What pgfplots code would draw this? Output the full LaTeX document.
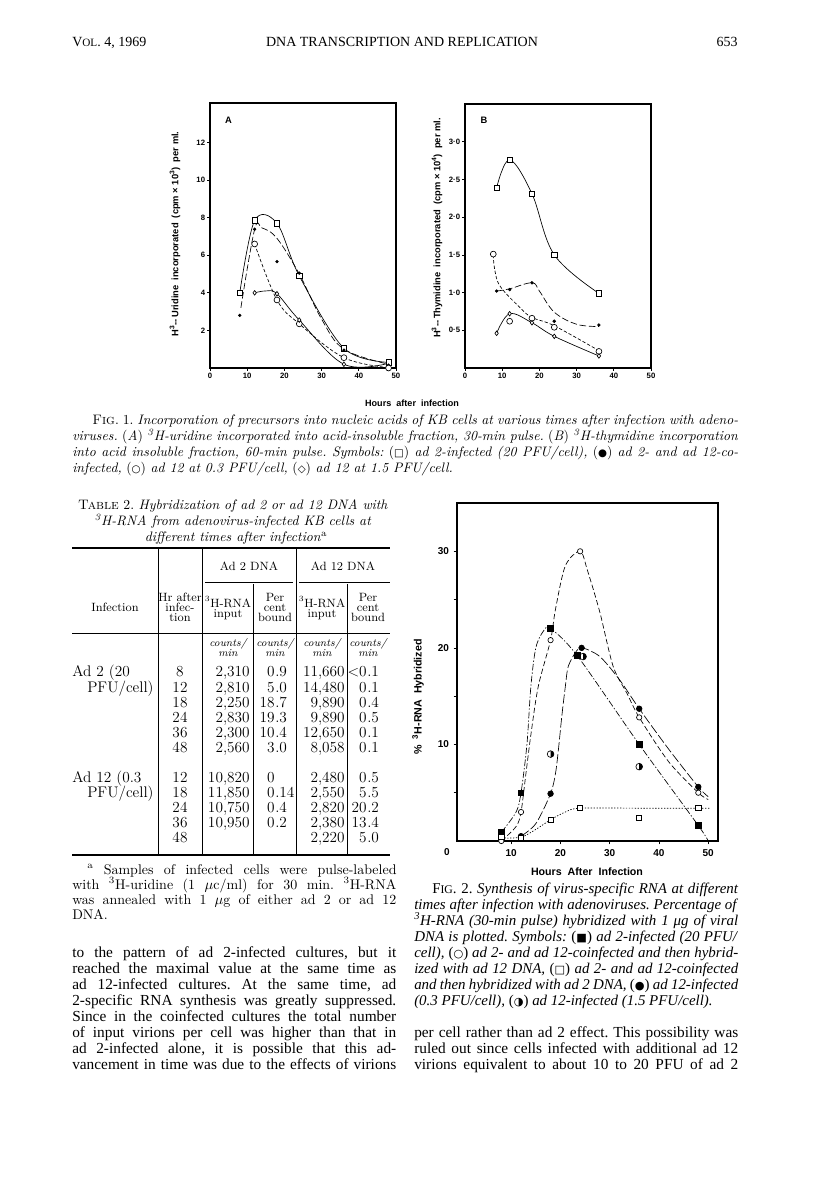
\documentclass[border=0pt]{standalone}
\usepackage{pgfplots}
\pgfplotsset{compat=1.18}
\usepackage{graphicx}
\usepackage{fontspec}
\newfontfamily\tms{Liberation Serif}
\newfontfamily\hv{Liberation Sans}
\newfontfamily\sym{DejaVu Sans}
\frenchspacing
\newcommand\sy[1]{{\sym\scalebox{0.75}{#1}}}
\newcommand\bodyf{\tms\fontsize{11.5}{12}\selectfont}
\newcommand\captf{\tms\fontsize{11.2}{12}\selectfont}
\newcommand\lmf{\fontsize{10.3}{12}\selectfont}
\newcommand\J[4]{\node[anchor=base west,inner sep=0pt] at (#1,-#2) {\makebox[#3][s]{#4}};}
\newcommand\Lt[3]{\node[anchor=base west,inner sep=0pt] at (#1,-#2) {#3};}
\pgfdeclareplotmark{halfo}{%
  \pgfpathcircle{\pgfpointorigin}{\pgfplotmarksize}%
  \pgfusepathqstroke
  \pgfpathmoveto{\pgfpoint{0pt}{\pgfplotmarksize}}%
  \pgfpatharc{90}{-90}{\pgfplotmarksize}%
  \pgfpathclose
  \pgfusepathqfill}
\pgfplotsset{
  fig1/.style={scale only axis, anchor=south west, clip=false,
    axis line style={line width=0.8pt},
    tick align=outside, tick pos=left, major tick length=2pt,
    tick style={line width=0.5pt,black},
    tick label style={font=\hv\bfseries\fontsize{5.8}{6}\selectfont, inner sep=1.5pt},
    every axis plot/.append style={line width=0.5pt, black}},
}
\begin{document}
\begin{tikzpicture}[x=0.75pt,y=0.75pt]
\fill[white] (0,0) rectangle (816,-1181);
\path[use as bounding box] (0,0) rectangle (816,-1181);

% ---------------- header
\begin{scope}[every node/.style={font=\tms\fontsize{10.5}{12}\selectfont}]
\Lt{72}{47}{V{\fontsize{8.4}{8}\selectfont OL}. 4, 1969}
\node[anchor=base,inner sep=0pt] at (402,-47) {DNA TRANSCRIPTION AND REPLICATION};
\node[anchor=base east,inner sep=0pt] at (738,-47) {653};
\end{scope}

% ---------------- Fig 1 A  (box x 210-396 px, y 103-368 px)
\begin{axis}[fig1, at={(157.5pt,-276pt)}, width=139.5pt, height=198.75pt,
  xmin=0, xmax=50, ymin=0, ymax=14.1,
  xtick={0,10,20,30,40,50}, xticklabels={0,10,20,30,40,50},
  ytick={2,4,6,8,10,12}, yticklabels={2,4,6,8,10,12}]
\addplot[smooth, tension=0.55] coordinates {(8,4.0)(12,7.85)(18,7.7)(24,4.9)(36,1.05)(48,0.3)};
\addplot[smooth, tension=0.6, dash pattern=on 5pt off 2pt] coordinates {(8.3,3.2)(12,7.38)(14,7.45)(18,6.9)(24,5.0)(30,2.6)(36,1.0)(48,0.2)};
\addplot[smooth, tension=0.6, dash pattern=on 2.5pt off 1.5pt] coordinates {(12,6.6)(18,3.62)(24,2.35)(36,0.55)(48,0.02)};
\addplot[smooth, tension=0.6] coordinates {(12,4.0)(15,4.1)(18,3.95)(24,2.55)(36,0.2)(48,0.25)};
\addplot[only marks, mark=square*, mark size=2pt, mark options={fill=white}] coordinates {(8,4.0)(12,7.85)(18,7.7)(24,4.9)(36,1.05)(48,0.3)};
\addplot[only marks, mark=*, mark size=1pt] coordinates {(8,2.8)(12,7.38)(18,5.66)(24,5.05)(36,0.95)(48,0.15)};
\addplot[only marks, mark=*, mark size=2.2pt, mark options={fill=white}] coordinates {(12,6.6)(18,3.62)(24,2.35)(36,0.55)(48,0.0)};
\addplot[only marks, mark=diamond*, mark size=1.7pt, mark options={fill=white}] coordinates {(12,4.0)(18,3.95)(24,2.55)(36,0.2)};
\node[font=\hv\bfseries\fontsize{7}{8}\selectfont] at (axis cs:5,13.2) {A};
\end{axis}
\node[rotate=90, font=\hv\bfseries\fontsize{7}{8}\selectfont] at (175,-234) {H\textsuperscript{3}--\,Uridine\ \ incorporated\ \ (cpm\ \texttimes\ 10\textsuperscript{3})\ \ per\ ml.};

% ---------------- Fig 1 B  (box x 465-651 px, y 104-368 px)
\begin{axis}[fig1, at={(348.75pt,-276pt)}, width=139.5pt, height=198pt,
  xmin=0, xmax=50, ymin=0, ymax=3.5,
  xtick={0,10,20,30,40,50}, xticklabels={0,10,20,30,40,50},
  ytick={0.5,1,1.5,2,2.5,3}, yticklabels={0·5,1·0,1·5,2·0,2·5,3·0}]
\addplot[smooth, tension=0.6] coordinates {(8.5,2.39)(12,2.76)(18,2.31)(24,1.5)(36,0.99)};
\addplot[smooth, tension=0.6, dash pattern=on 5pt off 2pt] coordinates {(8.5,1.02)(12,1.05)(18,1.13)(20,1.02)(24,0.74)(30,0.58)(36,0.55)};
\addplot[smooth, tension=0.6, dash pattern=on 2.5pt off 1.5pt] coordinates {(7.6,1.5)(8,1.3)(9.5,1.08)(14.8,0.8)(18,0.67)(24,0.56)(36,0.23)};
\addplot[smooth, tension=0.6] coordinates {(8.5,0.46)(12,0.72)(18,0.6)(24,0.42)(36,0.16)};
\addplot[only marks, mark=square*, mark size=2pt, mark options={fill=white}] coordinates {(8.5,2.39)(12,2.76)(18,2.31)(24,1.5)(36,0.99)};
\addplot[only marks, mark=*, mark size=1pt] coordinates {(8.5,1.02)(12,1.04)(18,1.13)(24,0.62)(36,0.57)};
\addplot[only marks, mark=*, mark size=2.2pt, mark options={fill=white}] coordinates {(7.6,1.51)(12,0.62)(18,0.66)(24,0.54)(36,0.22)};
\addplot[only marks, mark=diamond*, mark size=1.7pt, mark options={fill=white}] coordinates {(8.5,0.46)(12,0.72)(18,0.6)(24,0.42)(36,0.16)};
\node[font=\hv\bfseries\fontsize{7}{8}\selectfont] at (axis cs:5.1,3.28) {B};
\end{axis}
\node[rotate=90, font=\hv\bfseries\fontsize{7}{8}\selectfont] at (437,-228) {H\textsuperscript{3}--\,Thymidine\ \ incorporated\ \ (cpm\ \texttimes\ 10\textsuperscript{4})\ \ per\ ml.};
\node[font=\hv\bfseries\fontsize{6.8}{7}\selectfont] at (412,-403) {Hours\ \ after\ \ infection};

% ---------------- Fig 1 caption
\begin{scope}[every node/.style={font=\lmf}]
\J{92}{424}{484.5pt}{\textsc{Fig}. 1. \textit{Incorporation of precursors into nucleic acids of KB cells at various times after infection with adeno-}}
\J{72}{440}{499.5pt}{\textit{viruses.} (\textit{A}) \textit{\textsuperscript{3}H-uridine incorporated into acid-insoluble fraction, 30-min pulse.} (\textit{B}) \textit{\textsuperscript{3}H-thymidine incorporation}}
\J{72}{456}{499.5pt}{\textit{into acid insoluble fraction, 60-min pulse. Symbols:} (\sy{□}) \textit{ad 2-infected (20 PFU/cell),} (\sy{●}) \textit{ad 2- and ad 12-co-}}
\Lt{72}{472}{\textit{infected,} (\sy{○}) \textit{ad 12 at 0.3 PFU/cell,} (\sy{◇}) \textit{ad 12 at 1.5 PFU/cell.}}
\end{scope}

% ---------------- Table 2
\begin{scope}[every node/.style={font=\lmf}]
\node[anchor=base,inner sep=0pt] at (233,-509) {\textsc{Table} 2. \textit{Hybridization of ad 2 or ad 12 DNA with}};
\node[anchor=base,inner sep=0pt] at (233,-525) {\textit{\textsuperscript{3}H-RNA from adenovirus-infected KB cells at}};
\node[anchor=base,inner sep=0pt] at (236,-541) {\textit{different times after infection}\textsuperscript{a}};
\end{scope}
\draw[line width=0.9pt] (72,-548) -- (390,-548);
\draw[line width=0.9pt] (72,-855) -- (390,-855);
\draw[line width=0.4pt] (158,-548) -- (158,-855);
\draw[line width=0.4pt] (202,-548) -- (202,-855);
\draw[line width=0.4pt] (296,-548) -- (296,-855);
\draw[line width=0.4pt] (253,-584) -- (253,-855);
\draw[line width=0.4pt] (347,-584) -- (347,-855);
\draw[line width=0.4pt] (205,-582) -- (293,-582);
\draw[line width=0.4pt] (299,-582) -- (390,-582);
\draw[line width=0.4pt] (72,-633) -- (390,-633);
\begin{scope}[every node/.style={font=\fontsize{9}{10}\selectfont, inner sep=0pt, anchor=base}]
\node at (249,-570) {Ad 2 DNA};
\node at (343,-570) {Ad 12 DNA};
\node at (115,-611) {Infection};
\node at (180,-601) {Hr after}; \node at (180,-611) {infec-}; \node at (180,-621) {tion};
\node at (228,-607) {\textsuperscript{3}H-RNA}; \node at (228,-617) {input};
\node at (275,-601) {Per}; \node at (275,-611) {cent}; \node at (275,-621) {bound};
\node at (322,-607) {\textsuperscript{3}H-RNA}; \node at (322,-617) {input};
\node at (368,-601) {Per}; \node at (368,-611) {cent}; \node at (368,-621) {bound};
\end{scope}
\begin{scope}[every node/.style={font=\fontsize{8}{9}\selectfont\itshape, inner sep=0pt, anchor=base}]
\foreach \cx in {228,275,322,368} {
  \node at (\cx,-646) {counts/};
  \node at (\cx,-656) {min};
}
\end{scope}
\newcommand\trow[8]{%
  \node[anchor=base] at (180,-#1) {#2};
  \node[anchor=base east] at (250,-#1) {#3};
  \node[anchor=base east] at (275,-#1) {#4};
  \node[anchor=base west] at (275,-#1) {#5};
  \node[anchor=base east] at (345,-#1) {#6};
  \node[anchor=base east] at (367,-#1) {#7};
  \node[anchor=base west] at (367,-#1) {#8};}
\begin{scope}[every node/.style={font=\fontsize{11.5}{12}\selectfont, inner sep=0pt}]
\Lt{72}{676}{Ad 2 (20}
\Lt{87}{692}{PFU/cell)}
\trow{676}{8}{2,310}{0}{.9}{11,660}{<0}{.1}
\trow{692}{12}{2,810}{5}{.0}{14,480}{0}{.1}
\trow{707}{18}{2,250}{18}{.7}{9,890}{0}{.4}
\trow{722}{24}{2,830}{19}{.3}{9,890}{0}{.5}
\trow{737}{36}{2,300}{10}{.4}{12,650}{0}{.1}
\trow{752}{48}{2,560}{3}{.0}{8,058}{0}{.1}
\Lt{72}{782}{Ad 12 (0.3}
\Lt{87}{797}{PFU/cell)}
\trow{782}{12}{10,820}{0}{}{2,480}{0}{.5}
\trow{797}{18}{11,850}{0}{.14}{2,550}{5}{.5}
\trow{812}{24}{10,750}{0}{.4}{2,820}{20}{.2}
\trow{827}{36}{10,950}{0}{.2}{2,380}{13}{.4}
\trow{842}{48}{}{}{}{2,220}{5}{.0}
\end{scope}
\begin{scope}[every node/.style={font=\fontsize{10.5}{12}\selectfont}]
\J{87}{874}{232pt}{\textsuperscript{a} Samples of infected cells were pulse-labeled}
\J{72}{889}{243pt}{with \textsuperscript{3}H-uridine (1 $\mu$c/ml) for 30 min. \textsuperscript{3}H-RNA}
\J{72}{904}{243pt}{was annealed with 1 $\mu$g of either ad 2 or ad 12}
\Lt{72}{919}{DNA.}
\end{scope}

% ---------------- Fig 2  (box x 457-718 px, y 503-841 px)
\begin{axis}[scale only axis, anchor=south west, clip=false,
  at={(342.75pt,-630.75pt)}, width=195.75pt, height=253.5pt,
  xmin=-1, xmax=52, ymin=0, ymax=35,
  axis line style={line width=0.8pt},
  tick align=outside, tick pos=left, major tick length=2.5pt,
  tick style={line width=0.5pt,black},
  xtick={10,20,30,40,50}, xticklabels={10,20,30,40,50},
  ytick={5,10,15,20,25,30}, yticklabels={,10,,20,,30},
  tick label style={font=\hv\bfseries\fontsize{7.5}{8}\selectfont},
  every axis plot/.append style={line width=0.5pt, black}]
% ad 2-infected: dash-dot
\addplot[smooth, tension=0.5, dash pattern=on 5pt off 1.5pt on 1pt off 1.5pt] coordinates {(8,0.9)(11,3)(12,5)(13.2,10)(14,16)(15,20)(16.5,21.7)(18,22)(23.4,19.2)(36,10)(48,1.6)(50,0)};
% coinfected, ad 12 DNA: dashed
\addplot[smooth, tension=0.5, dash pattern=on 4pt off 2pt] coordinates {(8,0)(11,1.5)(12,3)(13,7)(14,11)(15.5,16)(18,20.8)(19,24)(21,28.5)(24,30)(25.5,28)(28,23.7)(30.7,18.1)(33.5,15.3)(36,12.8)(42,8.2)(48,5.0)(50,4.3)};
% ad 12 (0.3): long dash
\addplot[smooth, tension=0.5, dash pattern=on 7pt off 2pt] coordinates {(12,0.5)(15,1.8)(18,4.9)(19,7)(19.6,9.5)(20.3,13)(21,16)(21.6,18.1)(23.3,19.7)(24.5,20)(28,19.1)(32,16.7)(36,13.7)(42,9.5)(48,5.6)(50,4.6)};
% coinfected, ad 2 DNA: dotted
\addplot[smooth, tension=0.5, dash pattern=on 1pt off 1.2pt] coordinates {(8,0.3)(12,0.4)(15,1.2)(18,2.2)(21,3.0)(24,3.4)(36,3.4)(48,3.4)(50.5,3.4)};
\addplot[only marks, mark=square*, mark size=2.1pt] coordinates {(8,0.9)(12,5.0)(18,22.0)(23.4,19.2)(36,10.0)(48,1.6)};
\addplot[only marks, mark=*, mark size=2pt, mark options={fill=white}] coordinates {(8,0)(12,3.0)(18,20.8)(24,30)(36,12.8)(48,5.0)};
\addplot[only marks, mark=*, mark size=2.1pt] coordinates {(12,0.5)(18,4.9)(24.3,20)(36,13.7)(48,5.6)};
\addplot[only marks, mark=square*, mark size=1.9pt, mark options={fill=white}] coordinates {(8,0.4)(12,0.3)(18,2.2)(24,3.4)(36,2.4)(48,3.4)};
\addplot[only marks, mark=halfo, mark size=2.5pt] coordinates {(18,9.0)(24.6,19.1)(36,7.7)};
\end{axis}
\node[font=\hv\bfseries\fontsize{7.5}{8}\selectfont] at (447,-852) {0};
\node[rotate=90, font=\hv\bfseries\fontsize{8}{9}\selectfont] at (418,-697) {\%\ \ \textsuperscript{3}H-RNA\ \ Hybridized};
\node[font=\hv\bfseries\fontsize{8}{9}\selectfont] at (587,-872) {Hours\ \ After\ \ Infection};

% ---------------- Fig 2 caption
\begin{scope}[every node/.style={font=\captf}]
\J{432}{893}{229.5pt}{F{\fontsize{8.8}{9}\selectfont IG}. 2. \textit{Synthesis of virus-specific RNA at different}}
\J{414}{909}{243pt}{\textit{times after infection with adenoviruses. Percentage of}}
\J{414}{925}{243pt}{\textit{\textsuperscript{3}H-RNA (30-min pulse) hybridized with 1 μg of viral}}
\J{414}{941}{243pt}{\textit{DNA is plotted. Symbols:} (\sy{■}) \textit{ad 2-infected (20 PFU/}}
\J{414}{957}{243pt}{\textit{cell),} (\sy{○}) \textit{ad 2- and ad 12-coinfected and then hybrid-}}
\J{414}{973}{243pt}{\textit{ized with ad 12 DNA,} (\sy{□}) \textit{ad 2- and ad 12-coinfected}}
\J{414}{989}{243pt}{\textit{and then hybridized with ad 2 DNA,} (\sy{●}) \textit{ad 12-infected}}
\Lt{414}{1005}{\textit{(0.3 PFU/cell),} (\sy{◑}) \textit{ad 12-infected (1.5 PFU/cell).}}
\end{scope}

% ---------------- body text
\begin{scope}[every node/.style={font=\bodyf}]
\J{72}{957}{243pt}{to the pattern of ad 2-infected cultures, but it}
\J{72}{973}{243pt}{reached the maximal value at the same time as}
\J{72}{989}{243pt}{ad 12-infected cultures. At the same time, ad}
\J{72}{1005}{243pt}{2-specific RNA synthesis was greatly suppressed.}
\J{72}{1021}{243pt}{Since in the coinfected cultures the total number}
\J{72}{1037}{243pt}{of input virions per cell was higher than that in}
\J{72}{1053}{243pt}{ad 2-infected alone, it is possible that this ad-}
\J{72}{1069}{243pt}{vancement in time was due to the effects of virions}
\J{414}{1037}{243pt}{per cell rather than ad 2 effect. This possibility was}
\J{414}{1053}{243pt}{ruled out since cells infected with additional ad 12}
\J{414}{1069}{243pt}{virions equivalent to about 10 to 20 PFU of ad 2}
\end{scope}
\end{tikzpicture}
\end{document}
